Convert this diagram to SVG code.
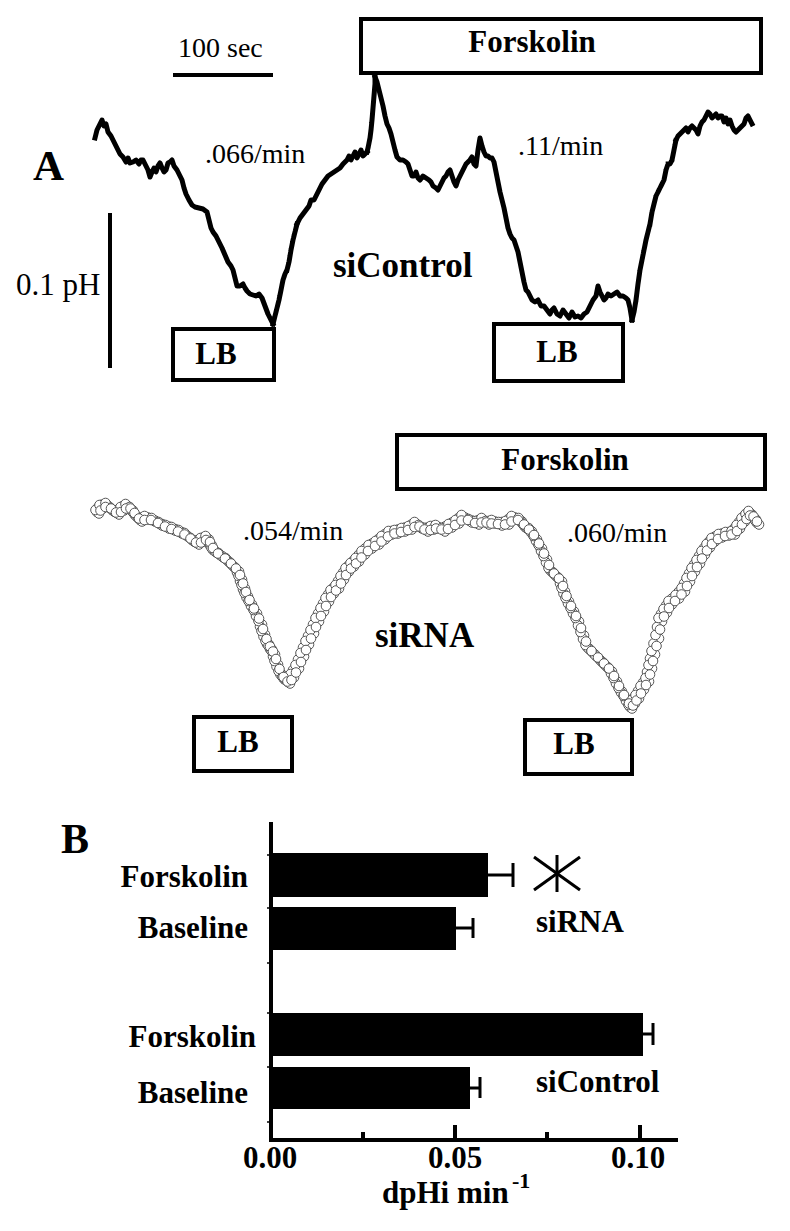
<svg xmlns="http://www.w3.org/2000/svg" width="790" height="1231" viewBox="0 0 790 1231">
<style>
.t{font-family:"Liberation Serif","Times New Roman",serif;fill:#000}
.b{font-weight:bold}
.box{fill:#fff;stroke:#000;stroke-width:4}
.ln{stroke:#000;stroke-width:4;fill:none}
.tr{fill:none;stroke:#000;stroke-width:5;stroke-linejoin:round;stroke-linecap:square}
.eb{stroke:#000;stroke-width:3;fill:none}
.ci{fill:none;stroke:none;marker-start:url(#c);marker-mid:url(#c);marker-end:url(#c)}
</style>
<defs>
<marker id="c" markerUnits="userSpaceOnUse" markerWidth="12" markerHeight="12" refX="6" refY="6" overflow="visible">
<circle cx="6" cy="6" r="4.8" fill="#fff" stroke="#555" stroke-width="1"/>
</marker>
</defs>
<rect width="790" height="1231" fill="#fff"/>

<!-- Panel A: siControl -->
<g id="scale">
<text class="t" x="178" y="57" font-size="28">100 sec</text>
<line class="ln" x1="173" y1="75" x2="273" y2="75"/>
<line class="ln" x1="110" y1="213" x2="110" y2="368"/>
<text class="t" x="16" y="295" font-size="31">0.1 pH</text>
</g>
<text class="t b" x="33" y="180" font-size="43">A</text>
<g id="forskolin1">
<rect class="box" x="361" y="19" width="400" height="54"/>
<text class="t b" x="532" y="52" font-size="31" text-anchor="middle">Forskolin</text>
</g>
<g id="lb1">
<rect class="box" x="173" y="329" width="101" height="51"/>
<text class="t b" x="216" y="364" font-size="31" text-anchor="middle">LB</text>
</g>
<g id="lb2">
<rect class="box" x="494" y="324" width="129" height="57"/>
<text class="t b" x="557" y="362" font-size="31" text-anchor="middle">LB</text>
</g>
<text class="t" x="205" y="163" font-size="28">.066/min</text>
<text class="t" x="518" y="155" font-size="28">.11/min</text>
<text class="t b" x="333" y="277" font-size="35">siControl</text>
<g id="trace1">
<polyline class="tr" points="95,138 97,130 100,124 102,120 104,126 106,124 108,132 111,136 114,142 117,148 120,154 123,157 126,162 128,158 130,163 133,162 136,160 139,164 141,160 143,160 146,166 148,170 150,177 152,172 154,168 156,172 158,166 160,163 162,168 164,172 166,170 168,163 170,162 172,160 174,166 177,170 180,176 182,180 184,188 186,194 189,200 192,205 195,207 199,208 203,209 207,212 209,220 211,228 213,232 216,236 219,242 222,248 225,255 228,262 231,266 233,270 235,278 237,286 240,286 243,284 245,288 247,291 250,294 253,295 256,296 259,294 262,298 265,306 268,314 271,320 273,324"/>
<polyline class="tr" stroke-dasharray="5 2" points="273,324 275,316 277,308 279,300 281,290 283,280 285,274 287,270 289,262 291,250 293,240 295,232 297,224"/>
<polyline class="tr" points="297,224 300,218 303,214 306,210 309,206 311,200 314,200 317,194 320,188 322,184 325,180 328,176 331,174 334,172 337,170 340,168 343,164 345,162 347,160 349,156 351,160 353,156 355,152 357,158 359,154 361,150 363,156 365,154 367,152"/>
<polyline class="tr" stroke-dasharray="3 3" points="367,152 368,148 370,138 371,130 372,120 373,108 374,96 375,84 375,77"/>
<polyline class="tr" points="375,77 377,82 379,90 381,98 383,106 385,116 387,124 389,128 391,134 393,142 395,150 397,157 400,160 403,160 406,162 408,164 410,170 412,176 414,176 416,172 418,178 420,180 423,176 426,178 429,180 431,182 433,186 436,188 438,190 440,186 442,182 444,178 446,176 448,172 450,170 452,176 454,182 456,186 458,180 460,176 462,172 464,168 466,164 468,162 470,160 472,157 474,164 476,166 478,150 480,138 482,146 484,152 486,156 488,156 490,158 492,158 494,162 496,172 498,182 500,192 502,200 504,208 506,218 508,228 510,234 512,238 514,240 516,246 518,252 520,262 522,272 524,282 526,290 528,292 530,296 532,300 535,302 538,300 541,306 544,306 547,310 550,314 552,310 554,308 557,314 560,316 563,310 566,314 569,318 572,312 575,317 578,316 581,318 584,314 587,312 590,306 593,300 596,296 598,286 600,292 602,296 604,300 606,298 608,294 611,296 614,294 617,292 620,296 623,296 626,298 628,300 630,308 632,320"/>
<polyline class="tr" stroke-dasharray="5 2" points="632,320 634,312 636,300 638,284 640,270 642,260 644,250 646,240 648,232 650,224 652,212 654,204 656,196 658,192 660,188 662,184 664,180 666,170 668,164 670,164 672,160 674,150 676,140"/>
<polyline class="tr" points="676,140 678,136 680,134 682,132 684,130 686,128 688,132 690,128 692,126 694,128 696,130 698,134 700,126 702,122 704,120 706,116 708,112 710,114 712,118 714,116 716,114 718,118 720,116 722,116 724,122 726,118 728,124 730,120 732,126 734,130 736,132 738,130 740,128 742,126 744,124 746,118 748,116 750,120 752,124"/>
</g>

<!-- Panel A: siRNA -->
<g id="forskolin2">
<rect class="box" x="397" y="435" width="368" height="54"/>
<text class="t b" x="565" y="470" font-size="31" text-anchor="middle">Forskolin</text>
</g>
<g id="lb3">
<rect class="box" x="194" y="717" width="98" height="54"/>
<text class="t b" x="238" y="752" font-size="31" text-anchor="middle">LB</text>
</g>
<g id="lb4">
<rect class="box" x="525" y="720" width="107" height="54"/>
<text class="t b" x="574" y="754" font-size="31" text-anchor="middle">LB</text>
</g>
<text class="t" x="243" y="540" font-size="28">.054/min</text>
<text class="t" x="567" y="542" font-size="28">.060/min</text>
<text class="t b" x="375" y="647" font-size="35">siRNA</text>
<g id="trace2">
<path id="p2" class="ci" d="M97,512 L101,507 L107,505 L112,510 L117,513 L122,509 L127,506 L131,509 L135,515 L140,520 L146,518 L153,520 L160,524 L167,527 L173,529 L180,532 L186,535 L192,540 L197,543 L202,540 L207,538 L210,544 L213,550 L220,555 L227,560 L232,565 L237,570 L240,578 L243,587 L246,595 L250,603 L255,612 L260,623 L263,633 L267,643 L270,648 L273,653 L276,663 L280,673 L284,679 L288,682 L292,676 L297,667 L302,655 L307,643 L312,632 L317,620 L322,610 L327,600 L332,592 L337,587 L342,578 L347,570 L352,565 L357,560 L363,553 L370,547 L377,543 L383,538 L390,533 L396,532 L403,530 L410,528 L416,524 L420,527 L426,530 L432,528 L437,527 L443,530 L450,526 L457,522 L463,517 L470,521 L477,523 L483,520 L487,523 L493,522 L500,524 L507,523 L513,518 L520,520 L525,527 L530,530 L535,538 L540,547 L545,558 L550,570 L555,575 L560,580 L563,590 L567,600 L572,610 L577,620 L582,634 L587,647 L593,653 L600,660 L605,665 L610,670 L615,680 L620,690 L625,698 L630,707 L633,702 L637,697 L642,688 L647,680 L650,667 L653,653 L657,637 L660,620 L665,611 L670,603 L677,597 L683,590 L688,580 L693,570 L698,562 L703,553 L708,546 L713,540 L720,536 L727,534 L733,533 L738,527 L743,520 L747,516 L750,513 L754,518 L757,523"/>
<path id="m2" class="ci" d="M99,509.5 L104,506 L109.5,507.5 L114.5,511.5 L119.5,511 L124.5,507.5 L129,507.5 L133,512 L137.5,517.5 L143,519 L149.5,519 L156.5,522 L163.5,525.5 L170,528 L176.5,530.5 L183,533.5 L189,537.5 L194.5,541.5 L199.5,541.5 L204.5,539 L208.5,541 L211.5,547 L216.5,552.5 L223.5,557.5 L229.5,562.5 L234.5,567.5 L238.5,574 L241.5,582.5 L244.5,591 L248,599 L252.5,607.5 L257.5,617.5 L261.5,628 L265,638 L268.5,645.5 L271.5,650.5 L274.5,658 L278,668 L282,676 L286,680.5 L290,679 L294.5,671.5 L299.5,661 L304.5,649 L309.5,637.5 L314.5,626 L319.5,615 L324.5,605 L329.5,596 L334.5,589.5 L339.5,582.5 L344.5,574 L349.5,567.5 L354.5,562.5 L360,556.5 L366.5,550 L373.5,545 L380,540.5 L386.5,535.5 L393,532.5 L399.5,531 L406.5,529 L413,526 L418,525.5 L423,528.5 L429,529 L434.5,527.5 L440,528.5 L446.5,528 L453.5,524 L460,519.5 L466.5,519 L473.5,522 L480,521.5 L485,521.5 L490,522.5 L496.5,523 L503.5,523.5 L510,520.5 L516.5,519 L522.5,523.5 L527.5,528.5 L532.5,534 L537.5,542.5 L542.5,552.5 L547.5,564 L552.5,572.5 L557.5,577.5 L561.5,585 L565,595 L569.5,605 L574.5,615 L579.5,627 L584.5,640.5 L590,650 L596.5,656.5 L602.5,662.5 L607.5,667.5 L612.5,675 L617.5,685 L622.5,694 L627.5,702.5 L631.5,704.5 L635,699.5 L639.5,692.5 L644.5,684 L648.5,673.5 L651.5,660 L655,645 L658.5,628.5 L662.5,615.5 L667.5,607 L673.5,600 L680,593.5 L685.5,585 L690.5,575 L695.5,566 L700.5,557.5 L705.5,549.5 L710.5,543 L716.5,538 L723.5,535 L730,533.5 L735.5,530 L740.5,523.5 L745,518 L748.5,514.5 L752,515.5 L755.5,520.5"/>
<use href="#p2" transform="translate(2,1.5)"/>
<use href="#m2" transform="translate(-1.5,-1.5)"/>
<use href="#p2" transform="translate(-1.5,-2)"/>
<use href="#m2" transform="translate(1.5,1)"/>
</g>

<!-- Panel B -->
<text class="t b" x="61" y="853" font-size="42">B</text>
<g id="axes">
<line class="ln" x1="271" y1="822" x2="271" y2="1142"/>
<line class="ln" x1="269" y1="1140" x2="678" y2="1140"/>
<line class="ln" x1="455" y1="1125" x2="455" y2="1140"/>
<line class="ln" x1="640" y1="1125" x2="640" y2="1140"/>
<line class="ln" x1="363" y1="1132" x2="363" y2="1140"/>
<line class="ln" x1="547" y1="1132" x2="547" y2="1140"/>
<g stroke="#000" stroke-width="1.5">
<line x1="267" y1="855" x2="271" y2="855"/>
<line x1="267" y1="908" x2="271" y2="908"/>
<line x1="267" y1="963" x2="271" y2="963"/>
<line x1="267" y1="1013" x2="271" y2="1013"/>
<line x1="267" y1="1067" x2="271" y2="1067"/>
<line x1="267" y1="1122" x2="271" y2="1122"/>
</g>
<text class="t b" x="270" y="1168" font-size="31" text-anchor="middle">0.00</text>
<text class="t b" x="455" y="1168" font-size="31" text-anchor="middle">0.05</text>
<text class="t b" x="638" y="1168" font-size="31" text-anchor="middle">0.10</text>
<text class="t b" x="382" y="1203" font-size="31">dpHi min</text>
<text class="t b" x="512" y="1188" font-size="22">-1</text>
</g>
<g id="bar-sirna-forskolin">
<rect x="271" y="853" width="217" height="44" fill="#000"/>
<line class="eb" x1="488" y1="875" x2="513" y2="875"/>
<line class="eb" x1="513" y1="863" x2="513" y2="887"/>
<text class="t b" x="248" y="887" font-size="31" text-anchor="end">Forskolin</text>
</g>
<g id="bar-sirna-baseline">
<rect x="271" y="907" width="185" height="43" fill="#000"/>
<line class="eb" x1="456" y1="928" x2="473" y2="928"/>
<line class="eb" x1="473" y1="918" x2="473" y2="938"/>
<text class="t b" x="248" y="938" font-size="31" text-anchor="end">Baseline</text>
</g>
<g id="bar-sicontrol-forskolin">
<rect x="271" y="1013" width="372" height="43" fill="#000"/>
<line class="eb" x1="643" y1="1034" x2="653" y2="1034"/>
<line class="eb" x1="653" y1="1023" x2="653" y2="1045"/>
<text class="t b" x="256" y="1047" font-size="31" text-anchor="end">Forskolin</text>
</g>
<g id="bar-sicontrol-baseline">
<rect x="271" y="1067" width="199" height="42" fill="#000"/>
<line class="eb" x1="470" y1="1088" x2="480" y2="1088"/>
<line class="eb" x1="480" y1="1077" x2="480" y2="1098"/>
<text class="t b" x="248" y="1103" font-size="31" text-anchor="end">Baseline</text>
</g>
<g id="asterisk" class="eb">
<line x1="534" y1="857" x2="580" y2="890"/>
<line x1="580" y1="857" x2="534" y2="890"/>
<line x1="557" y1="855" x2="557" y2="892"/>
</g>
<text class="t b" x="536" y="932" font-size="31">siRNA</text>
<text class="t b" x="536" y="1092" font-size="31">siControl</text>
</svg>
